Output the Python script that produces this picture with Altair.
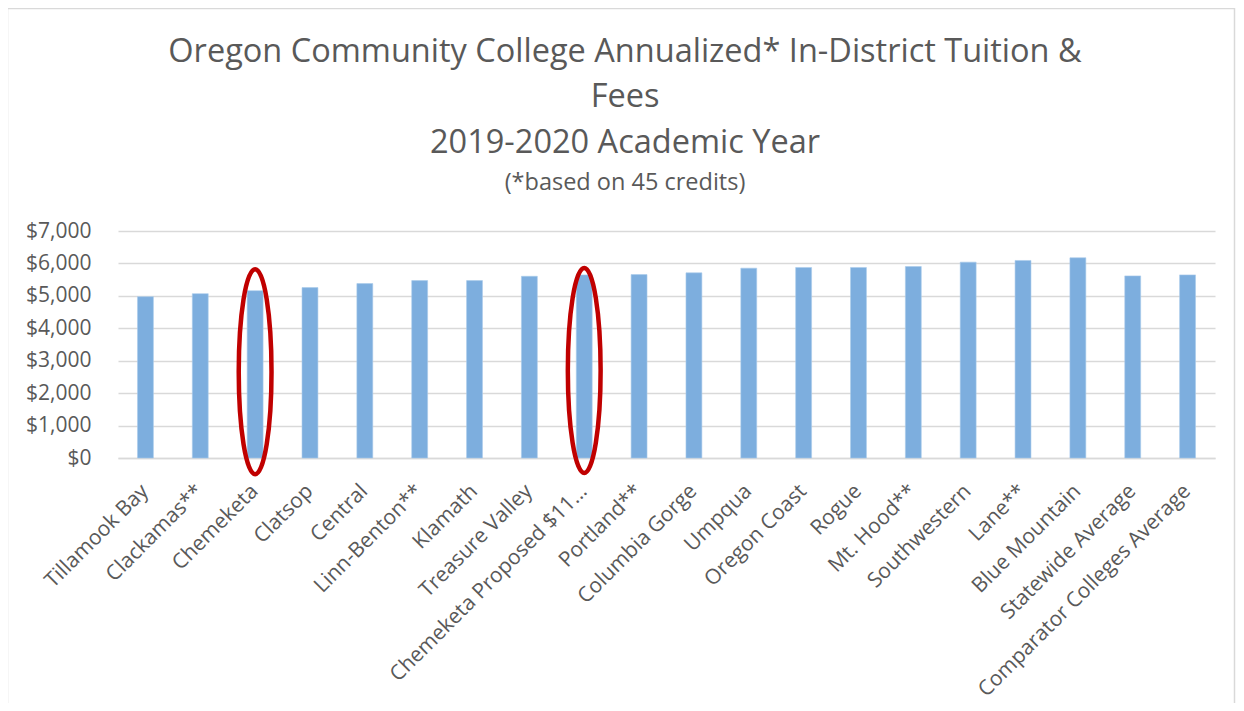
import altair as alt
import pandas as pd

colleges = [
    "Tillamook Bay", "Clackamas**", "Chemeketa", "Clatsop", "Central",
    "Linn-Benton**", "Klamath", "Treasure Valley", "Chemeketa Proposed $11...",
    "Portland**", "Columbia Gorge", "Umpqua", "Oregon Coast", "Rogue",
    "Mt. Hood**", "Southwestern", "Lane**", "Blue Mountain",
    "Statewide Average", "Comparator Colleges Average",
]
tuition = [
    4975, 5068, 5160, 5254, 5378,
    5470, 5470, 5604, 5647,
    5657, 5709, 5854, 5875, 5875,
    5905, 6040, 6091, 6174,
    5616, 5647,
]
y_ticks = [0, 1000, 2000, 3000, 4000, 5000, 6000, 7000]
highlighted = ["Chemeketa", "Chemeketa Proposed $11..."]
highlight_center = [2660, 2700]

title_lines = [
    "Oregon Community College Annualized* In-District Tuition &",
    "Fees",
    "2019-2020 Academic Year",
]
subtitle = "(*based on 45 credits)"

df = pd.DataFrame({"college": colleges, "tuition": tuition})
hl = pd.DataFrame({"college": highlighted, "tuition": highlight_center})
one = pd.DataFrame({"k": [0]})

FONT = "Open Sans"
GRAY = "#595959"
W, H = 1097, 227
CX = 625 - 118  # horizontal centre of the whole chart, in plot coordinates

a = 0.16
k = 0.5523
ka = k * a
ellipse = (
    f"M0,-1 C{ka},-1 {a},-{k} {a},0 C{a},{k} {ka},1 0,1 "
    f"C-{ka},1 -{a},{k} -{a},0 C-{a},-{k} -{ka},-1 0,-1 Z"
)

yscale = alt.Scale(domain=[0, 7000], nice=False)
xscale = alt.Scale(paddingInner=0.71, paddingOuter=0.355)
xaxis = alt.Axis(labelAngle=-45, labelAlign="right", labelBaseline="top",
                 labelPadding=22, labelOffset=-8, labelFontSize=21,
                 labelFont=FONT, labelColor=GRAY, ticks=False,
                 domainColor="#D9D9D9", domainWidth=1.3, labelLimit=400,
                 labelOverlap=False)
yaxis = alt.Axis(values=y_ticks, format="$,.0f", labelFontSize=21,
                 labelFont=FONT, labelColor=GRAY, labelPadding=27,
                 ticks=False, domain=False, gridColor="#D9D9D9",
                 gridWidth=1.3, labelOverlap=False)

bars = alt.Chart(df).mark_bar(color="#7DAEDE", stroke="#A9CBEB", strokeWidth=0.6).encode(
    x=alt.X("college:N", sort=colleges, title=None, scale=xscale, axis=xaxis),
    y=alt.Y("tuition:Q", title=None, scale=yscale, axis=yaxis),
)

rings = alt.Chart(hl).mark_point(
    shape=ellipse, filled=False, stroke="#C00000", strokeWidth=4.5,
    size=42000, opacity=1,
).encode(
    x=alt.X("college:N", sort=colleges, title=None, scale=xscale, axis=xaxis),
    y=alt.Y("tuition:Q", title=None, scale=yscale, axis=yaxis),
)

border = alt.Chart(one).mark_rect(
    fill=None, stroke="#D9D9D9", strokeWidth=1.5
).encode(
    x=alt.value(-110.5), x2=alt.value(W + 19.5),
    y=alt.value(-222.5), y2=alt.value(700),
)

title_y = [-179, -134, -88]
titles = [
    alt.Chart(one).mark_text(
        text=t, font=FONT, fontSize=32.5, color=GRAY, align="center",
        baseline="middle",
    ).encode(x=alt.value(CX), y=alt.value(yy))
    for t, yy in zip(title_lines, title_y)
]
sub = alt.Chart(one).mark_text(
    text=subtitle, font=FONT, fontSize=23.5, color=GRAY, align="center",
    baseline="middle",
).encode(x=alt.value(CX), y=alt.value(-48))

chart = alt.layer(border, bars, rings, *titles, sub).properties(
    width=W, height=H,
    background="white",
    padding={"left": 110, "top": 223, "right": 21, "bottom": 245},
    autosize=alt.AutoSizeParams(type="none"),
).configure_view(stroke="transparent", strokeWidth=0)

chart.save("out.html", embed_options={"renderer": "svg", "actions": False})
